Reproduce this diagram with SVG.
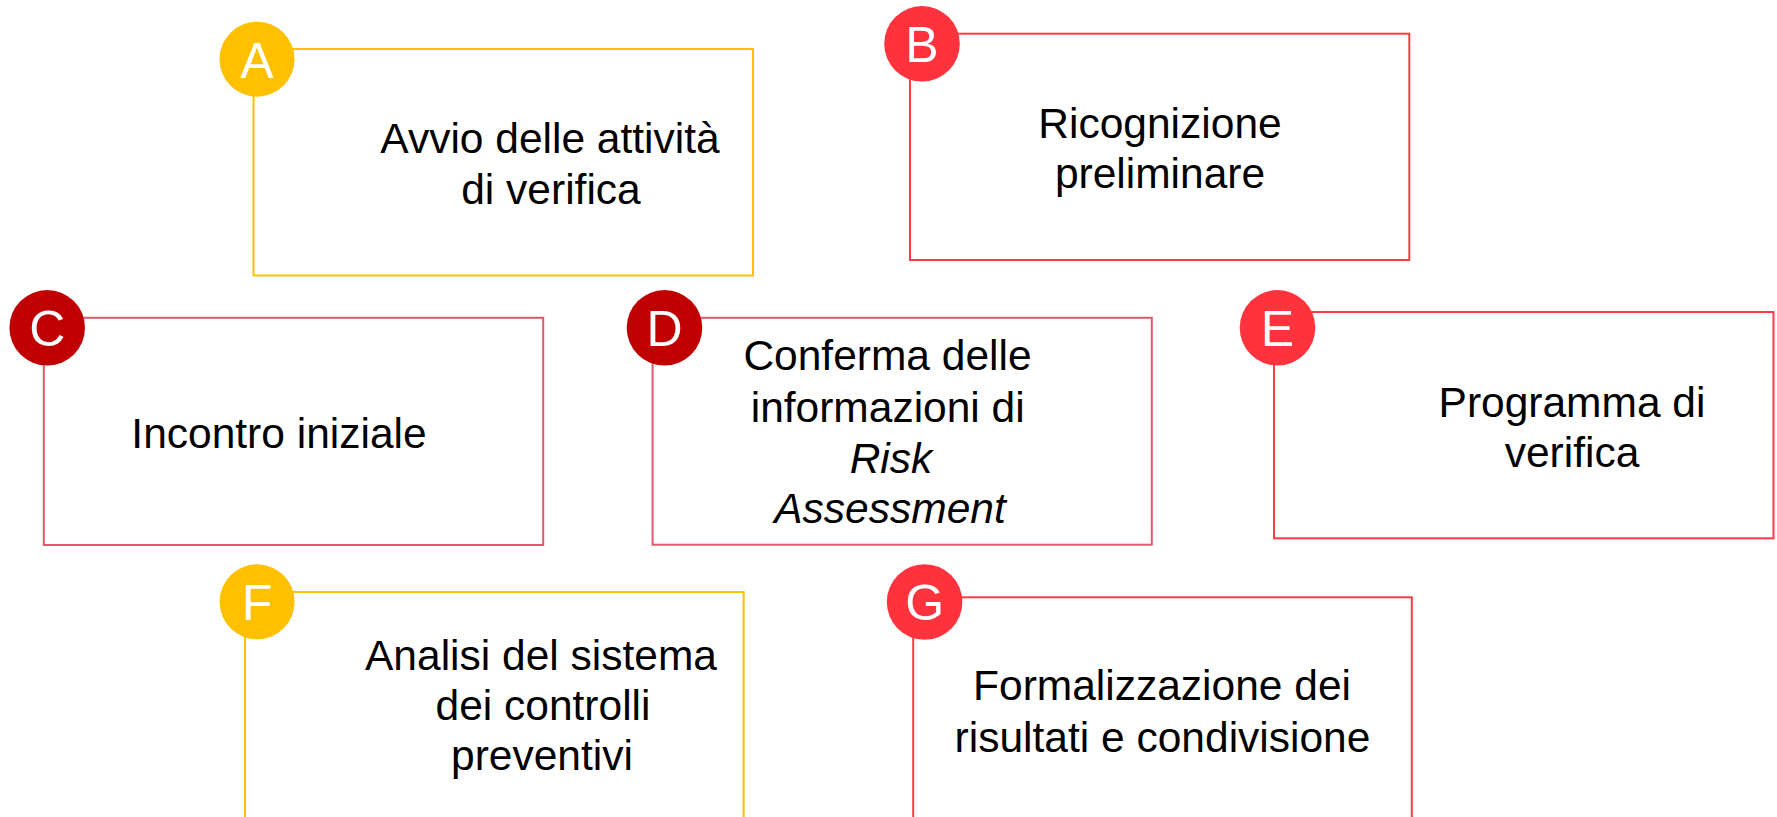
<svg xmlns="http://www.w3.org/2000/svg" width="1777" height="817" viewBox="0 0 1777 817">
<style>
.box{fill:#FFFFFF;stroke-width:2}
.y{stroke:#FFC000}
.r{stroke:#FF3B45}
.p{stroke:#DF5A6C}
.cy{fill:#FFC000}
.cr{fill:#FF333E}
.cd{fill:#C00000}
.lbl{font-family:"Liberation Sans",Arial,sans-serif;font-size:42.5px;fill:#000000;text-anchor:middle}
.ltr{font-family:"Liberation Sans",Arial,sans-serif;font-size:50px;fill:#FFFFFF;text-anchor:middle}
.it{font-style:italic}
</style>
<rect width="1777" height="817" fill="#FFFFFF"/>
<g id="connectors"></g>
<g id="node-A">
<rect class="box y" x="253.5" y="49" width="499.5" height="226.5"/>
<circle class="cy" cx="257" cy="59.2" r="37.5"/>
<text class="ltr" x="257" y="77.5">A</text>
<text class="lbl" x="550" y="153.3">Avvio delle attività</text>
<text class="lbl" x="551" y="204">di verifica</text>
</g>
<g id="node-B">
<rect class="box r" x="910" y="33.7" width="499.3" height="226.3"/>
<circle class="cr" cx="922" cy="43.8" r="37.8"/>
<text class="ltr" x="922" y="62">B</text>
<text class="lbl" x="1160" y="138.3">Ricognizione</text>
<text class="lbl" x="1160" y="188.3">preliminare</text>
</g>
<g id="node-C">
<rect class="box p" x="43.8" y="317.8" width="499.4" height="227.2"/>
<circle class="cd" cx="47.2" cy="327.8" r="37.8"/>
<text class="ltr" x="47.2" y="346">C</text>
<text class="lbl" x="279" y="447.7">Incontro iniziale</text>
</g>
<g id="node-D">
<rect class="box p" x="652.6" y="317.8" width="499.2" height="226.9"/>
<circle class="cd" cx="664.5" cy="327.8" r="37.8"/>
<text class="ltr" x="664.5" y="346">D</text>
<text class="lbl" x="887.5" y="370">Conferma delle</text>
<text class="lbl" x="887.7" y="421.7">informazioni di</text>
<text class="lbl it" x="891" y="473.3">Risk</text>
<text class="lbl it" x="890" y="523.3">Assessment</text>
</g>
<g id="node-E">
<rect class="box r" x="1274" y="312" width="499.5" height="226.3"/>
<circle class="cr" cx="1277.5" cy="327.8" r="37.8"/>
<text class="ltr" x="1277.5" y="346">E</text>
<text class="lbl" x="1572" y="416.7">Programma di</text>
<text class="lbl" x="1572" y="466.7">verifica</text>
</g>
<g id="node-F">
<rect class="box y" x="245" y="592" width="498.6" height="245"/>
<circle class="cy" cx="257.1" cy="601.8" r="37.5"/>
<text class="ltr" x="257.1" y="620">F</text>
<text class="lbl" x="541" y="670">Analisi del sistema</text>
<text class="lbl" x="543" y="720">dei controlli</text>
<text class="lbl" x="542" y="770">preventivi</text>
</g>
<g id="node-G">
<rect class="box r" x="913.2" y="597.3" width="498.6" height="245"/>
<circle class="cr" cx="924.6" cy="602" r="37.8"/>
<text class="ltr" x="924.6" y="620.2">G</text>
<text class="lbl" x="1162" y="700">Formalizzazione dei</text>
<text class="lbl" x="1162.5" y="751.7">risultati e condivisione</text>
</g>
</svg>
